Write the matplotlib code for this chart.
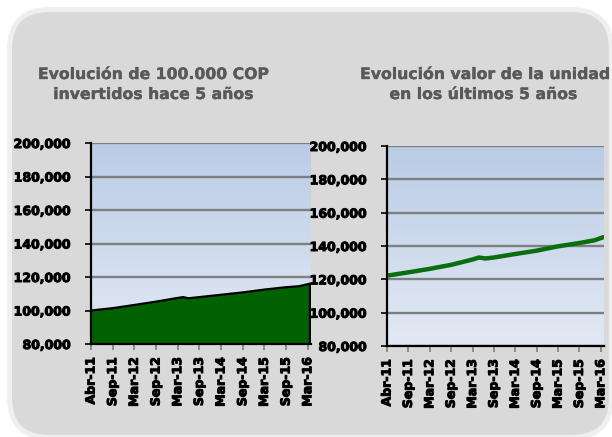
import matplotlib
matplotlib.use("Agg")
import matplotlib.pyplot as plt
import matplotlib.patheffects as pe
import numpy as np
from matplotlib.patches import FancyBboxPatch
from matplotlib.colors import LinearSegmentedColormap
from matplotlib.ticker import FuncFormatter

# ---------------- data ----------------
tick_labels = ['Abr-11', 'Sep-11', 'Mar-12', 'Sep-12', 'Mar-13', 'Sep-13',
               'Mar-14', 'Sep-14', 'Mar-15', 'Sep-15', 'Mar-16']

# period index (one unit per tick label interval)
inv_period = [0, 1, 2, 3, 4, 4.26, 4.49, 5, 6, 7, 8, 9, 9.6, 10.1]
inv_value = [100000, 101400, 103300, 105300, 107500, 108000, 107300, 108000,
             109400, 110800, 112500, 113900, 114500, 116000]

unit_period = [0, 1, 2, 3, 4, 4.3, 4.6, 5, 6, 7, 8, 9, 9.7, 10.12]
unit_value = [122200, 124200, 126300, 128700, 131900, 133100, 132500, 133100,
              135200, 137200, 139800, 141800, 143400, 145300]

y_ticks = [80000, 100000, 120000, 140000, 160000, 180000, 200000]

title_left = ["Evolución de 100.000 COP", "invertidos hace 5 años"]
title_right = ["Evolución valor de la unidad", "en los últimos 5 años"]

# ---------------- figure ----------------
W, H = 612, 437
fig = plt.figure(figsize=(W / 100, H / 100), dpi=100)
fig.patch.set_facecolor('white')

# rounded gray panel (pixel coords -> inches)
px = 1 / 100.0
box = FancyBboxPatch((9.5 * px, (H - 437.5) * px), (611.5 - 9.5) * px, (437.5 - 9.5) * px,
                     boxstyle=f"round,pad=0,rounding_size={40 * px}",
                     transform=fig.dpi_scale_trans, facecolor='#d9d9d9',
                     edgecolor='#efefef', linewidth=3.6, zorder=-10)
fig.add_artist(box)

bg_cmap = LinearSegmentedColormap.from_list('bg', ['#e3e9f4', '#b9cce6'])
fmt = FuncFormatter(lambda v, p: f"{int(v):,}")
heavy_black = [pe.withStroke(linewidth=0.7, foreground='black')]


def make_axes(rect, xmax):
    ax = fig.add_axes(rect)
    ax.set_zorder(1)
    ax.set_facecolor('none')
    ax.set_xlim(0, xmax)
    ax.set_ylim(80000, 200000)
    grad = np.linspace(0, 1, 256).reshape(-1, 1)
    ax.imshow(grad, extent=[0, xmax, 80000, 200000], origin='lower',
              aspect='auto', cmap=bg_cmap, zorder=0)
    ax.set_yticks(y_ticks)
    ax.yaxis.set_major_formatter(fmt)
    ax.set_xticks(range(len(tick_labels)))
    ax.set_xticklabels(tick_labels, rotation=90)
    for lab in ax.get_xticklabels() + ax.get_yticklabels():
        lab.set_fontfamily('DejaVu Sans')
        lab.set_fontweight('bold')
        lab.set_fontsize(9)
        lab.set_color('black')
        lab.set_path_effects(heavy_black)
    ax.grid(axis='y', color='#7f7f7f', linewidth=1.7)
    ax.set_axisbelow(True)
    for s in ['top', 'right']:
        ax.spines[s].set_visible(False)
    for s in ['left', 'bottom']:
        ax.spines[s].set_color('black')
        ax.spines[s].set_linewidth(1.6)
        ax.spines[s].set_zorder(5)
    ax.tick_params(axis='y', direction='out', length=4.5, width=1.2,
                   color='black', pad=10)
    ax.tick_params(axis='x', direction='out', length=4.5, width=1.2,
                   color='#808080', pad=5)
    return ax


# left axes: x 91..311, y 143..344 (px from top)
axL = make_axes([91 / W, (H - 344) / H, 220 / W, 201 / H], 10.15)
axL.fill_between(inv_period, 80000, inv_value, facecolor='#006100',
                 edgecolor='none', zorder=2)
axL.plot(inv_period, inv_value, color='black', linewidth=1.6, zorder=3)
axL.plot([inv_period[-1], inv_period[-1]], [80000, inv_value[-1]],
         color='black', linewidth=1.6, zorder=3)

# right axes: x 387..604, y 146..346
axR = make_axes([387 / W, (H - 346) / H, 217 / W, 200 / H], 10.15)
axR.plot(unit_period, unit_value, color='#0a6e0f', linewidth=3.2,
         solid_capstyle='round', zorder=3)

# titles
tcol = '#595959'
tfont = dict(family='DejaVu Sans', weight='bold', size=11.3, color=tcol,
             ha='center', va='baseline',
             path_effects=[pe.withStroke(linewidth=0.25, foreground=tcol)])
fig.text(154 / W, (H - 79) / H, title_left[0], **tfont)
fig.text(154 / W, (H - 99) / H, title_left[1], **tfont)
fig.text(486 / W, (H - 79) / H, title_right[0], **tfont)
fig.text(484 / W, (H - 99) / H, title_right[1], **tfont)

fig.savefig('out.png', dpi=100)
